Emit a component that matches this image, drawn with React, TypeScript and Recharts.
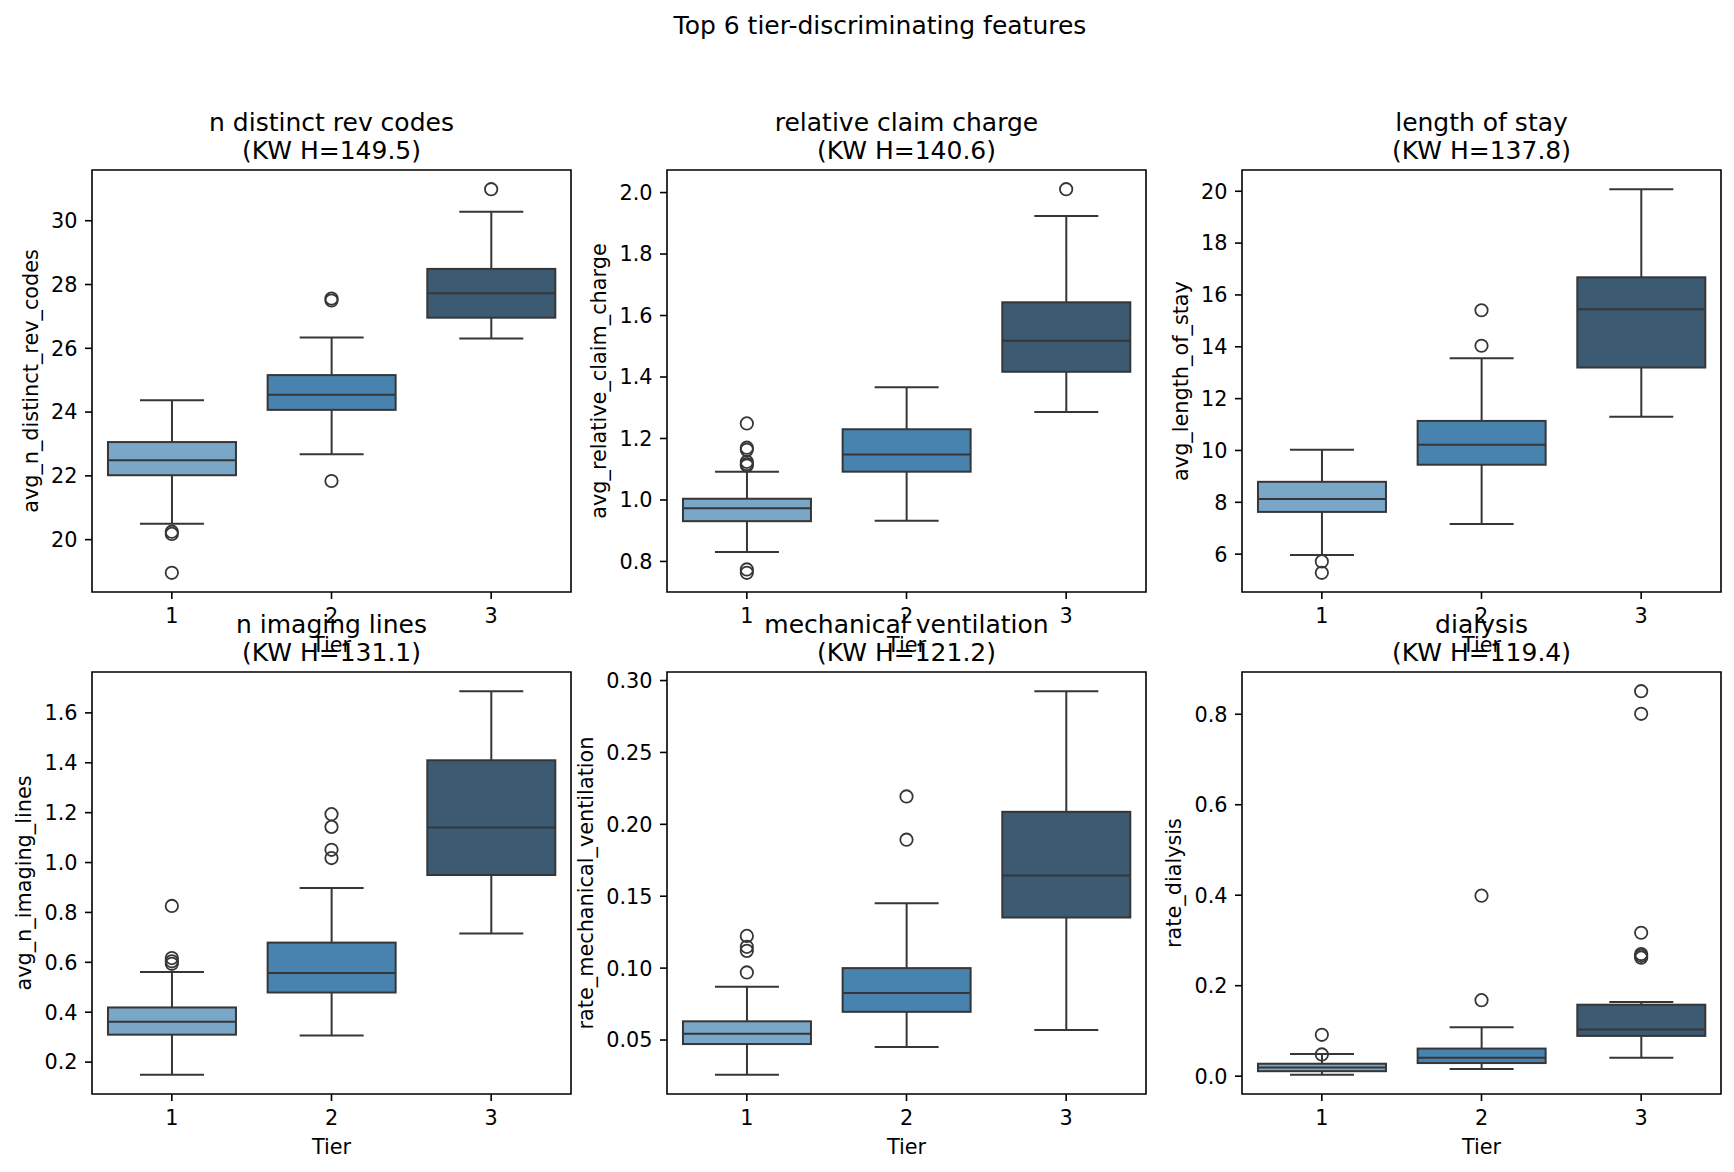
import React from 'react';
import { ComposedChart, Bar, Scatter, XAxis, YAxis, ReferenceArea } from 'recharts';

// ---------- data ----------
const tiers = ['1', '2', '3'];
const tierFills = ['#7aa7c8', '#4883b0', '#3c5a72'];

// per tier: [lower whisker, Q1, median, Q3, upper whisker]
const revCodesBoxes = [
  [20.5, 22.02, 22.49, 23.06, 24.37],
  [22.68, 24.07, 24.54, 25.16, 26.34],
  [26.31, 26.96, 27.73, 28.49, 30.28],
];
const revCodesOutliers = [[20.25, 20.18, 18.96], [27.56, 27.5, 21.84], [30.99]];
const revCodesTicks = [20, 22, 24, 26, 28, 30];

const claimChargeBoxes = [
  [0.831, 0.931, 0.973, 1.004, 1.092],
  [0.932, 1.092, 1.148, 1.23, 1.367],
  [1.286, 1.417, 1.518, 1.643, 1.924],
];
const claimChargeOutliers = [[1.249, 1.17, 1.163, 1.124, 1.117, 1.112, 0.774, 0.763], [], [2.011]];
const claimChargeTicks = [0.8, 1.0, 1.2, 1.4, 1.6, 1.8, 2.0];

const stayBoxes = [
  [5.97, 7.63, 8.13, 8.79, 10.03],
  [7.16, 9.45, 10.22, 11.14, 13.56],
  [11.3, 13.2, 15.45, 16.68, 20.08],
];
const stayOutliers = [[5.72, 5.28], [14.04, 15.41], []];
const stayTicks = [6, 8, 10, 12, 14, 16, 18, 20];

const imagingBoxes = [
  [0.149, 0.31, 0.362, 0.419, 0.561],
  [0.307, 0.479, 0.557, 0.679, 0.898],
  [0.716, 0.95, 1.14, 1.41, 1.687],
];
const imagingOutliers = [[0.826, 0.617, 0.604, 0.594], [1.194, 1.143, 1.051, 1.018], []];
const imagingTicks = [0.2, 0.4, 0.6, 0.8, 1.0, 1.2, 1.4, 1.6];

const ventBoxes = [
  [0.0258, 0.0472, 0.0543, 0.063, 0.087],
  [0.0452, 0.0696, 0.0827, 0.1, 0.1452],
  [0.0569, 0.1352, 0.1645, 0.2087, 0.2926],
];
const ventOutliers = [[0.1224, 0.1148, 0.112, 0.097], [0.2194, 0.1893], []];
const ventTicks = [0.05, 0.1, 0.15, 0.2, 0.25, 0.3];

const dialysisBoxes = [
  [0.003, 0.011, 0.019, 0.0275, 0.049],
  [0.016, 0.029, 0.041, 0.061, 0.108],
  [0.0405, 0.089, 0.103, 0.158, 0.164],
];
const dialysisOutliers = [[0.0915, 0.048], [0.168, 0.399], [0.851, 0.801, 0.317, 0.27, 0.266, 0.262]];
const dialysisTicks = [0.0, 0.2, 0.4, 0.6, 0.8];

const panelTitles = ['n distinct rev codes', 'relative claim charge', 'length of stay', 'n imaging lines', 'mechanical ventilation', 'dialysis'];
const panelKW = ['(KW H=149.5)', '(KW H=140.6)', '(KW H=137.8)', '(KW H=131.1)', '(KW H=121.2)', '(KW H=119.4)'];
const panelYLabels = ['avg_n_distinct_rev_codes', 'avg_relative_claim_charge', 'avg_length_of_stay', 'avg_n_imaging_lines', 'rate_mechanical_ventilation', 'rate_dialysis'];
const panelDecimals = [0, 1, 0, 1, 2, 1];
const suptitle = 'Top 6 tier-discriminating features';

// ---------- layout / style ----------
const FONT = 'DejaVu Sans';
const EDGE = '#363636';
const PLOT_W = 479;
const PLOT_H = 422;
const COL_X = [92, 667, 1242];
const ROW_Y = [169.5, 672];
const Y_AXIS_W = 92;
const X_AXIS_H = 70;
const M_TOP = 5;
const M_RIGHT = 5;
const TICK_FS = 20.8;
const TITLE_FS = 25;

const allBoxes = [revCodesBoxes, claimChargeBoxes, stayBoxes, imagingBoxes, ventBoxes, dialysisBoxes];
const allOutliers = [revCodesOutliers, claimChargeOutliers, stayOutliers, imagingOutliers, ventOutliers, dialysisOutliers];
const allTicks = [revCodesTicks, claimChargeTicks, stayTicks, imagingTicks, ventTicks, dialysisTicks];

const BoxShape = (props: any) => {
  const { x, y, width, height, payload } = props;
  if (!payload || x == null || y == null) return null;
  const [lo, q1, med, q3, hi] = payload.stats as number[];
  const top = Math.min(y, y + height);
  const bottom = Math.max(y, y + height);
  const py = (v: number) => bottom - ((v - lo) / (hi - lo)) * (bottom - top);
  const cx = x + width / 2;
  const cap = width / 4;
  const sw = 2;
  return (
    <g>
      <line x1={cx} x2={cx} y1={py(hi)} y2={py(q3)} stroke={EDGE} strokeWidth={sw} />
      <line x1={cx} x2={cx} y1={py(q1)} y2={py(lo)} stroke={EDGE} strokeWidth={sw} />
      <line x1={cx - cap} x2={cx + cap} y1={py(hi)} y2={py(hi)} stroke={EDGE} strokeWidth={sw} />
      <line x1={cx - cap} x2={cx + cap} y1={py(lo)} y2={py(lo)} stroke={EDGE} strokeWidth={sw} />
      <rect x={x} y={py(q3)} width={width} height={py(q1) - py(q3)} fill={payload.fill} stroke={EDGE} strokeWidth={sw} />
      <line x1={x} x2={x + width} y1={py(med)} y2={py(med)} stroke={EDGE} strokeWidth={sw} />
    </g>
  );
};

const Flier = (props: any) => {
  const { cx, cy } = props;
  if (cx == null || cy == null) return null;
  return <circle cx={cx} cy={cy} r={6.2} fill="none" stroke={EDGE} strokeWidth={1.8} />;
};

const labelWidth = (s: string) => {
  let w = 0;
  for (const ch of s) w += ch === '.' ? 0.318 * TICK_FS : 0.636 * TICK_FS;
  return w;
};

const Panel = ({ idx }: { idx: number }) => {
  const boxes = allBoxes[idx];
  const outliers = allOutliers[idx];
  const ticks = allTicks[idx];
  const dec = panelDecimals[idx];
  const fmt = (v: number) => v.toFixed(dec);
  const values = [...boxes.flat(), ...outliers.flat()];
  const mn = Math.min(...values);
  const mx = Math.max(...values);
  const pad = (mx - mn) * 0.05;
  const domain = [mn - pad, mx + pad];
  const boxRows = tiers.map((t, i) => ({ tier: t, range: [boxes[i][0], boxes[i][4]], stats: boxes[i], fill: tierFills[i] }));
  const flierRows = tiers.flatMap((t, i) => outliers[i].map((v) => ({ tier: t, value: v })));
  const maxTickW = Math.max(...ticks.map((t) => labelWidth(fmt(t))));
  const yLabelOffset = 7.3 + 7.3 + maxTickW + 8.3 + 5;
  const ylabel = panelYLabels[idx];

  const YLabel = (p: any) => {
    const vb = p.viewBox || {};
    const bx = vb.x + vb.width - yLabelOffset;
    const cy = vb.y + vb.height / 2;
    return (
      <text x={bx} y={cy} transform={`rotate(-90, ${bx}, ${cy})`} textAnchor="middle" fontFamily={FONT} fontSize={TICK_FS} fill="#000">
        {ylabel}
      </text>
    );
  };
  const XLabel = (p: any) => {
    const vb = p.viewBox || {};
    return (
      <text x={vb.x + vb.width / 2} y={vb.y + 60} textAnchor="middle" fontFamily={FONT} fontSize={TICK_FS} fill="#000">
        Tier
      </text>
    );
  };

  const col = idx % 3;
  const row = Math.floor(idx / 3);
  const left = COL_X[col] - Y_AXIS_W;
  const top = ROW_Y[row] - M_TOP;
  return (
    <div style={{ position: 'absolute', left, top }}>
      <ComposedChart
        width={Y_AXIS_W + PLOT_W + M_RIGHT}
        height={M_TOP + PLOT_H + X_AXIS_H}
        data={boxRows}
        margin={{ top: M_TOP, right: M_RIGHT, left: 0, bottom: 0 }}
        barCategoryGap="10%"
      >
        <XAxis
          dataKey="tier"
          type="category"
          allowDuplicatedCategory={false}
          height={X_AXIS_H}
          axisLine={false}
          tickSize={7}
          tickMargin={9}
          tickLine={{ stroke: '#000', strokeWidth: 1.6 }}
          tick={{ fill: '#000', fontSize: TICK_FS, fontFamily: FONT }}
          label={{ value: 'Tier', content: XLabel }}
        />
        <YAxis
          type="number"
          domain={domain}
          allowDataOverflow
          ticks={ticks}
          interval={0}
          width={Y_AXIS_W}
          axisLine={false}
          tickSize={7}
          tickMargin={7.5}
          tickFormatter={fmt}
          tickLine={{ stroke: '#000', strokeWidth: 1.6 }}
          tick={{ fill: '#000', fontSize: TICK_FS, fontFamily: FONT }}
          label={{ value: ylabel, content: YLabel }}
        />
        <Bar dataKey="range" shape={<BoxShape />} isAnimationActive={false} />
        <Scatter data={flierRows} dataKey="value" shape={<Flier />} isAnimationActive={false} />
        <ReferenceArea y1={domain[0]} y2={domain[1]} fill="none" fillOpacity={0} stroke="#000" strokeWidth={1.6} ifOverflow="visible" />
      </ComposedChart>
    </div>
  );
};

export default function App() {
  return (
    <div style={{ position: 'absolute', left: 0, top: 0, width: 1734, height: 1172, background: '#fff', overflow: 'hidden' }}>
      {[0, 1, 2, 3, 4, 5].map((i) => (
        <Panel key={i} idx={i} />
      ))}
      <svg width={1734} height={1172} style={{ position: 'absolute', left: 0, top: 0, pointerEvents: 'none' }}>
        <text x={880} y={34} textAnchor="middle" fontFamily={FONT} fontSize={TITLE_FS} fill="#000">
          {suptitle}
        </text>
        {panelTitles.map((t, i) => {
          const cx = COL_X[i % 3] + PLOT_W / 2;
          const ty = ROW_Y[Math.floor(i / 3)];
          return (
            <g key={t}>
              <text x={cx} y={ty - 39} textAnchor="middle" fontFamily={FONT} fontSize={TITLE_FS} fill="#000">{t}</text>
              <text x={cx} y={ty - 11} textAnchor="middle" fontFamily={FONT} fontSize={TITLE_FS} fill="#000">{panelKW[i]}</text>
            </g>
          );
        })}
      </svg>
    </div>
  );
}
